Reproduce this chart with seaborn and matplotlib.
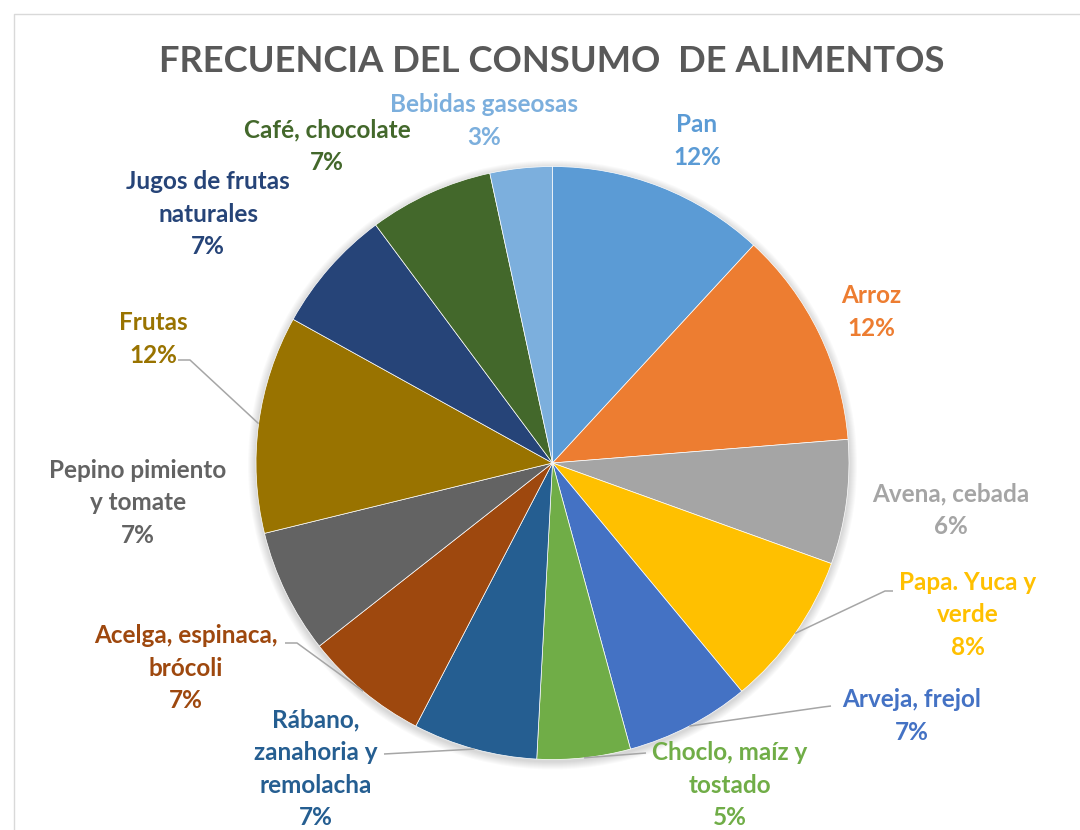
import matplotlib.pyplot as plt
import matplotlib.patches as mpatches
import numpy as np
import seaborn as sns

# Datos del gráfico (orden horario desde las 12)
alimentos = ["Pan", "Arroz", "Avena, cebada", "Papa. Yuca y\nverde", "Arveja, frejol",
             "Choclo, maíz y\ntostado", "Rábano,\nzanahoria y\nremolacha",
             "Acelga, espinaca,\nbrócoli", "Pepino pimiento\ny tomate", "Frutas",
             "Jugos de frutas\nnaturales", "Café, chocolate", "Bebidas gaseosas"]
frecuencia = [7, 7, 4, 5, 4, 3, 4, 4, 4, 7, 4, 4, 2]
porcentaje = [12, 12, 6, 8, 7, 5, 7, 7, 7, 12, 7, 7, 3]
colores = ["#5B9BD5", "#ED7D31", "#A5A5A5", "#FFC000", "#4472C4", "#70AD47", "#255E91",
           "#9E480E", "#636363", "#997300", "#264478", "#43682B", "#7CAFDD"]

sns.set_theme(style="white")
plt.rcParams['font.family'] = ['Lato', 'DejaVu Sans']

W, H = 1080, 830
fig = plt.figure(figsize=(W / 100, H / 100), dpi=100)
ax = fig.add_axes([0, 0, 1, 1])

cx, cy, r = 552.5, H - 463, 296.5

# sombra suave
for k in range(8, 0, -1):
    ax.add_patch(mpatches.Circle((cx, cy - 2), r + k, color="black", alpha=0.018, lw=0))

wedges, _ = ax.pie(frecuencia, colors=colores, startangle=90, counterclock=False,
                   center=(cx, cy), radius=r,
                   wedgeprops=dict(edgecolor="white", linewidth=0.5))

ax.set_xlim(0, W)
ax.set_ylim(0, H)
ax.set_aspect("equal")
ax.axis("off")

# posiciones de las etiquetas (px desde arriba)
pos_etiquetas = [(697, 141), (871, 312), (951, 510), (968, 615), (912, 716), (730, 785),
                 (316, 769), (186, 668), (138, 503), (153, 339), (208, 214), (327, 146),
                 (484, 121)]
for nombre, p, col, (x, y) in zip(alimentos, porcentaje, colores, pos_etiquetas):
    ax.text(x, H - y, f"{nombre}\n{p}%", color=col, fontsize=17.5, fontweight="bold",
            ha="center", va="center", linespacing=1.5)

# líneas guía: índice de porción -> (ancla, codo)
guias = {3: [(893, 591), (885, 591)], 4: [(831, 706), (823, 707)],
         5: [(646, 753), (646, 753)], 6: [(384, 754), (384, 754)],
         7: [(285, 643), (297, 643)], 9: [(178, 360), (190, 360)]}
for i, pts in guias.items():
    w = wedges[i]
    ang = np.deg2rad((w.theta1 + w.theta2) / 2)
    ex, ey = cx + r * np.cos(ang), cy + r * np.sin(ang)
    xs = [pts[0][0], pts[1][0], ex]
    ys = [H - pts[0][1], H - pts[1][1], ey]
    ax.plot(xs, ys, color="#A6A6A6", lw=1.1, solid_capstyle="butt")

# borde del área del gráfico
ax.plot([14, 14, W + 5], [-5, H - 14, H - 14], color="#D9D9D9", lw=1)

ax.text(552, H - 62, "FRECUENCIA DEL CONSUMO  DE ALIMENTOS", color="#595959",
        fontsize=26.2, fontweight="bold", ha="center", va="center")

fig.savefig("out.png", dpi=100)
